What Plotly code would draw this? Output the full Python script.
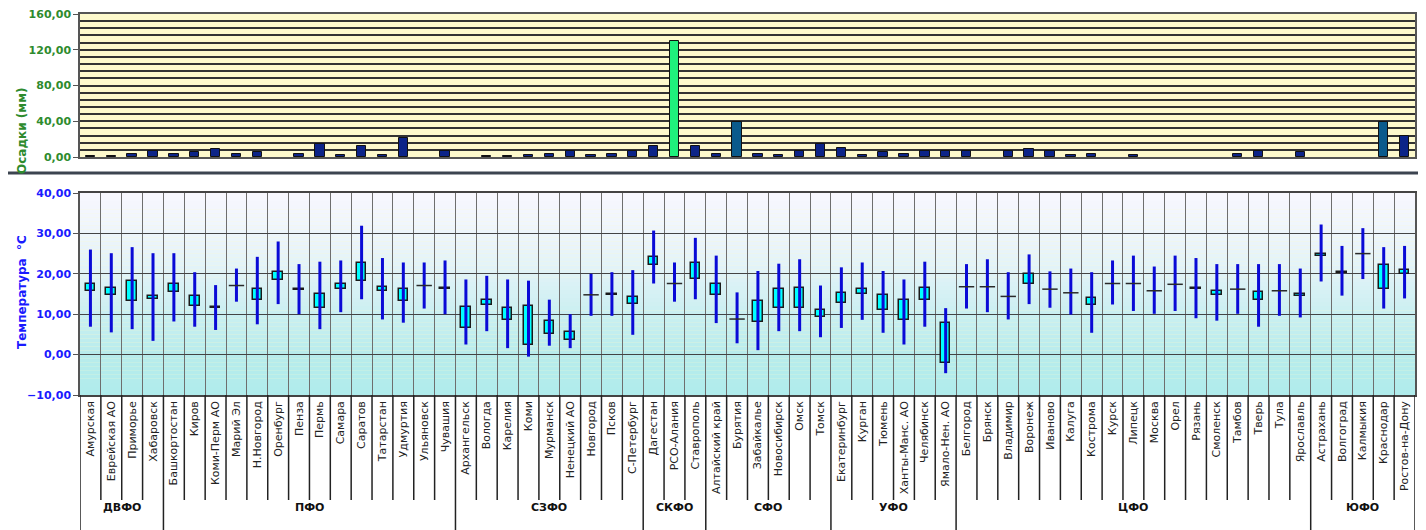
import plotly.graph_objects as go

regions = ["Амурская", "Еврейская АО", "Приморье", "Хабаровск",
           "Башкортостан", "Киров", "Коми-Перм АО", "Марий Эл", "Н.Новгород", "Оренбург", "Пенза",
           "Пермь", "Самара", "Саратов", "Татарстан", "Удмуртия", "Ульяновск", "Чувашия",
           "Архангельск", "Вологда", "Карелия", "Коми", "Мурманск", "Ненецкий АО", "Новгород",
           "Псков", "С-Петербург",
           "Дагестан", "РСО-Алания", "Ставрополь",
           "Алтайский край", "Бурятия", "Забайкалье", "Новосибирск", "Омск", "Томск",
           "Екатеринбург", "Курган", "Тюмень", "Ханты-Манс. АО", "Челябинск", "Ямало-Нен. АО",
           "Белгород", "Брянск", "Владимир", "Воронеж", "Иваново", "Калуга", "Кострома", "Курск",
           "Липецк", "Москва", "Орел", "Рязань", "Смоленск", "Тамбов", "Тверь", "Тула", "Ярославль",
           "Астрахань", "Волгоград", "Калмыкия", "Краснодар", "Ростов-на-Дону"]

group_names = ["ДВФО", "ПФО", "СЗФО", "СКФО", "СФО", "УФО", "ЦФО", "ЮФО"]
group_sizes = [4, 14, 9, 3, 6, 6, 17, 5]

precip = [1.5, 1.5, 3.7, 7.0,
          3.7, 5.2, 9.3, 3.7, 5.2, 0, 3.7, 14.9, 2.6, 11.9, 2.6, 20.8, 0, 7.0,
          0, 1.5, 1.5, 2.6, 3.7, 7.0, 2.6, 3.7, 6.7,
          12.6, 129.5, 12.6,
          3.7, 38.7, 3.7, 2.6, 6.7, 14.9,
          10.4, 2.2, 5.2, 3.7, 6.7, 7.0,
          6.7, 0, 6.7, 8.9, 6.7, 2.6, 3.7, 0, 2.6, 0, 0, 0, 0, 3.7, 6.7, 0, 5.2,
          0, 0, 0, 38.7, 23.0]

t_max = [26.0, 25.1, 26.6, 25.1,
         25.1, 20.4, 17.2, 21.3, 24.2, 28.0, 22.4, 23.0, 23.3, 31.9, 23.9, 22.8, 22.8, 23.3,
         18.6, 19.5, 18.6, 18.3, 13.6, 10.0, 20.0, 20.4, 20.9,
         30.7, 22.8, 28.9,
         24.5, 15.4, 20.7, 22.5, 23.6, 17.1,
         21.6, 22.8, 20.7, 18.6, 23.0, 11.5,
         22.4, 23.6, 20.4, 24.8, 20.6, 21.3, 20.4, 23.3, 24.5, 21.8, 24.5, 23.9, 22.4, 22.4, 22.4, 22.4, 21.3,
         32.2, 26.9, 31.3, 26.6, 26.9]
t_min = [6.9, 5.5, 6.3, 3.4,
         8.2, 6.9, 6.1, 13.1, 7.5, 12.5, 10.0, 6.3, 10.5, 13.7, 8.7, 7.9, 11.4, 10.0,
         2.5, 5.8, 1.6, -0.5, 2.2, 1.6, 9.6, 9.6, 4.9,
         17.6, 13.1, 13.7,
         7.8, 2.8, 1.1, 5.8, 5.8, 4.3,
         6.6, 8.6, 5.4, 2.5, 6.9, -4.6,
         11.4, 10.5, 8.7, 12.5, 11.6, 9.9, 5.4, 12.4, 10.8, 10.1, 10.8, 9.0, 8.4, 10.1, 6.9, 9.6, 9.2,
         18.1, 14.6, 18.7, 11.4, 13.9]
box_hi = [17.6, 16.5, 18.2, 14.4,
          17.6, 14.4, 11.7, 17.1, 16.2, 20.5, 16.2, 15.0, 17.6, 22.7, 16.8, 16.2, 17.1, 16.4,
          11.7, 13.5, 11.5, 12.0, 8.3, 5.7, 14.8, 15.0, 14.2,
          24.2, 17.6, 22.7,
          17.4, 8.8, 13.3, 16.2, 16.4, 11.1,
          15.3, 16.2, 14.8, 13.5, 16.5, 7.7,
          16.8, 16.8, 14.4, 20.0, 16.2, 15.3, 14.1, 17.6, 17.6, 15.8, 17.4, 16.4, 15.8, 16.2, 15.6, 15.8, 15.0,
          25.0, 20.5, 25.0, 22.1, 20.9]
box_lo = [15.8, 14.7, 13.2, 13.8,
          15.6, 12.0, 11.5, 17.1, 13.4, 18.5, 16.0, 11.5, 16.2, 18.2, 15.8, 13.3, 17.1, 16.2,
          6.7, 12.3, 8.5, 2.5, 5.2, 3.5, 14.8, 14.8, 12.6,
          22.1, 17.6, 18.8,
          14.8, 8.8, 8.0, 11.5, 11.5, 9.4,
          12.7, 14.9, 11.1, 8.5, 13.5, -2.2,
          16.8, 16.8, 14.4, 17.6, 16.2, 15.3, 12.4, 17.6, 17.6, 15.8, 17.4, 16.2, 14.8, 16.2, 13.5, 15.8, 14.4,
          24.3, 20.3, 25.0, 16.2, 20.0]

# page body has an 8px margin: work in screen pixels and convert
OFF = 8
W, H = 1426 - OFF, 530 - OFF
def px(X):
    return (X - OFF) / W
def py(Y):
    return 1 - (Y - OFF) / H

X0, X1 = px(80), px(1415)
TOP_DOM = [py(157), py(14)]
BOT_DOM = [py(395), py(193)]
N = len(regions)

def bar_color(v):
    if v > 100:
        return "#1ff07c"
    if v > 30:
        return "#0a5a8c"
    return "#0c2488"

fig = go.Figure()

fig.add_trace(go.Bar(
    x=regions, y=[v if v > 0 else None for v in precip], width=0.45,
    marker=dict(color=[bar_color(v) for v in precip], line=dict(color="#111111", width=1)),
    xaxis="x", yaxis="y", showlegend=False, hoverinfo="x+y"))

wx, wy = [], []
for r, lo, hi in zip(regions, t_min, t_max):
    wx += [r, r, None]
    wy += [lo, hi, None]
fig.add_trace(go.Scatter(x=wx, y=wy, mode="lines", line=dict(color="#0a0ad6", width=3),
                         xaxis="x2", yaxis="y2", showlegend=False, hoverinfo="skip"))

bx, bbase, bh, fx, fy = [], [], [], [], []
for r, lo, hi in zip(regions, box_lo, box_hi):
    if hi - lo > 0.01:
        bx.append(r); bbase.append(lo); bh.append(hi - lo)
    else:
        fx.append(r); fy.append(hi)
fig.add_trace(go.Bar(x=bx, y=bh, base=bbase, width=0.46,
                     marker=dict(color="#00ffff", line=dict(color="#1a1a1a", width=1.5)),
                     xaxis="x2", yaxis="y2", showlegend=False))
fig.add_trace(go.Scatter(x=fx, y=fy, mode="markers",
                         marker=dict(symbol="line-ew", size=11, line=dict(color="#2a2a2a", width=1.5)),
                         xaxis="x2", yaxis="y2", showlegend=False))

shapes = []
# gradient background of temperature panel
stops = [(-10, (176, 236, 236)), (0, (184, 236, 236)), (10, (202, 239, 241)),
         (20, (224, 243, 247)), (30, (238, 245, 251)), (40, (247, 247, 254))]
def col_at(t):
    for (t0, c0), (t1, c1) in zip(stops[:-1], stops[1:]):
        if t0 <= t <= t1:
            f = (t - t0) / (t1 - t0)
            return "rgb(%d,%d,%d)" % tuple(round(a + (b - a) * f) for a, b in zip(c0, c1))
    return "rgb(247,247,254)"
t = -10.0
while t < 40:
    shapes.append(dict(type="rect", xref="x2 domain", yref="y2", x0=0, x1=1, y0=t, y1=t + 1.0,
                       fillcolor=col_at(t + 0.5), line=dict(width=0), layer="below"))
    t += 1.0

# separators in label area
ylab_top = py(395)
ylab_bot = py(500)
bounds = set()
acc = 0
for s in group_sizes:
    bounds.add(acc)
    acc += s
bounds.add(acc)
for i in range(N + 1):
    shapes.append(dict(type="line", xref="x2", yref="paper", x0=i - 0.5, x1=i - 0.5,
                       y0=ylab_top, y1=(0 if i in bounds else ylab_bot),
                       line=dict(color="#222222", width=1.5)))
# panel separator and right frame
shapes.append(dict(type="line", xref="paper", yref="paper", x0=0, x1=1, y0=py(173), y1=py(173),
                   line=dict(color="#3c4450", width=3)))
shapes.append(dict(type="line", xref="paper", yref="paper", x0=px(1423), x1=px(1423), y0=0, y1=1,
                   line=dict(color="#666666", width=2)))

annotations = []
acc = 0
for g, s in zip(group_names, group_sizes):
    annotations.append(dict(x=acc + s / 2 - 0.5, y=py(516), xref="x2", yref="paper", text=g,
                            showarrow=False, font=dict(family="DejaVu Sans", size=11, color="#111111", weight="bold")))
    acc += s
annotations.append(dict(x=px(13), y=py(86), xref="paper", yref="paper", text="Осадки (мм)",
                        textangle=-90, showarrow=False,
                        font=dict(family="DejaVu Sans", size=12, color="#2e8b2e", weight="bold")))
annotations.append(dict(x=px(13), y=py(292), xref="paper", yref="paper", text="Температура  °С",
                        textangle=-90, showarrow=False,
                        font=dict(family="DejaVu Sans", size=12, color="#1a1aff", weight="bold")))

fig.update_layout(
    width=W, height=H, margin=dict(l=0, r=0, t=0, b=0, autoexpand=False),
    paper_bgcolor="white", plot_bgcolor="#fdf9cc",
    separators=", ", barmode="overlay", bargap=0,
    font=dict(family="DejaVu Sans", size=11, color="#222222"),
    shapes=shapes, annotations=annotations,
    xaxis=dict(domain=[X0, X1], anchor="y", type="category", categoryorder="array",
               categoryarray=regions, range=[-0.5, N - 0.5], showticklabels=False, automargin=False,
               showgrid=False, showline=True, linecolor="#555555", linewidth=1.5, mirror=True, ticks=""),
    yaxis=dict(domain=TOP_DOM, anchor="x", range=[0, 160], dtick=40, tickformat=".2f", automargin=False,
               ticklabeloverflow="allow",
               tickfont=dict(family="DejaVu Sans", size=11, color="#2e8b2e", weight="bold"),
               showgrid=True, gridcolor="#333333", gridwidth=1.5,
               minor=dict(dtick=8, showgrid=True, gridcolor="#333333", gridwidth=1.5),
               ticks="outside", ticklen=5, tickcolor="#555555", zeroline=False,
               showline=True, linecolor="#555555", linewidth=1.5, mirror=True),
    xaxis2=dict(domain=[X0, X1], anchor="y2", type="category", categoryorder="array",
                categoryarray=regions, range=[-0.5, N - 0.5], tickson="boundaries", automargin=False,
                ticklabeloverflow="allow",
                showgrid=True, gridcolor="#6e6e6e", gridwidth=1.2, tickangle=-90, ticks="",
                tickfont=dict(family="DejaVu Sans", size=11, color="#222222"),
                showline=True, linecolor="#444444", linewidth=1.5, mirror=True),
    yaxis2=dict(domain=BOT_DOM, anchor="x2", range=[-10, 40], dtick=10, tickformat=".2f", automargin=False,
                ticklabeloverflow="allow",
                tickfont=dict(family="DejaVu Sans", size=11, color="#1a1aff", weight="bold"),
                showgrid=True, gridcolor="#444444", gridwidth=1.2, zeroline=False,
                ticks="outside", ticklen=5, tickcolor="#555555",
                showline=True, linecolor="#555555", linewidth=1.5, mirror=True),
)

fig.write_html("out.html")
